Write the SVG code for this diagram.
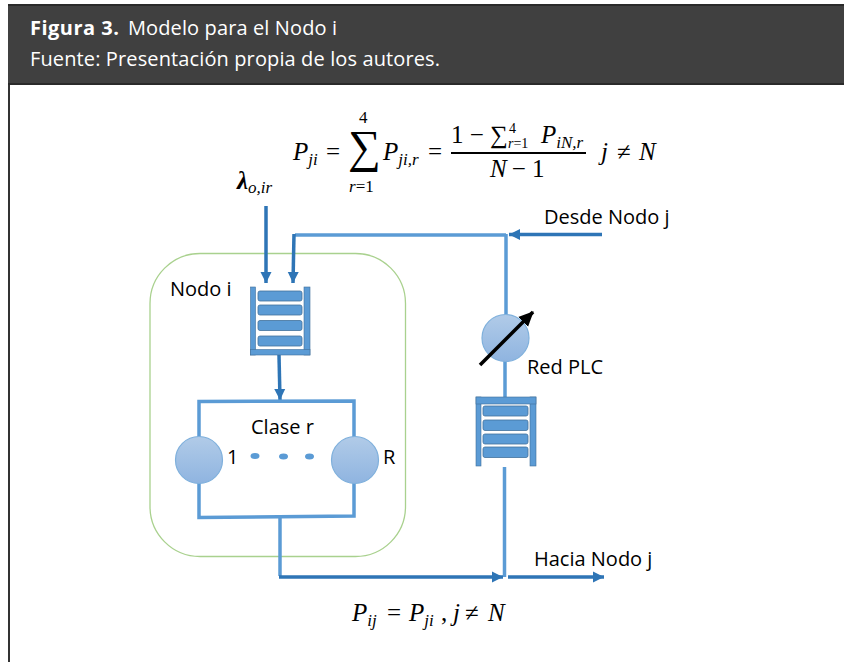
<svg xmlns="http://www.w3.org/2000/svg" width="844" height="662" viewBox="0 0 844 662">
<defs>
<linearGradient id="g" x1="0" y1="0" x2="0" y2="1"><stop offset="0" stop-color="#b1cbe8"/><stop offset="1" stop-color="#8fb4e0"/></linearGradient>
<marker id="ah" markerUnits="userSpaceOnUse" markerWidth="14" markerHeight="14" refX="11" refY="7" orient="auto"><path d="M0,1.500 L11,7 L0,12.500 Z" fill="#2e75b6"/></marker>
<marker id="ak" markerUnits="userSpaceOnUse" markerWidth="18" markerHeight="18" refX="14" refY="9" orient="auto"><path d="M0,2 L15,9 L0,16 Z" fill="#000"/></marker>
</defs>
<style>
.t{font-family:"Open Sans","Noto Sans",sans-serif;fill:#000;font-size:20px}
.h{font-family:"Open Sans","Noto Sans",sans-serif;fill:#fff;font-size:20px}
.m{font-family:"Liberation Serif",serif;font-style:italic;fill:#000;font-size:25px}
.r{font-style:normal}
.s{font-size:17px}
.l{fill:none;stroke:#5b9bd5;stroke-width:3.5}
.d{fill:none;stroke:#2e75b6;stroke-width:3.5}
.w{fill:#5b9bd5;stroke:#41719c;stroke-width:.6}
.b{fill:#5b9bd5;stroke:#41719c;stroke-width:.8}
.c{fill:url(#g);stroke:#7fb0dc;stroke-width:1.2}
</style>
<rect width="844" height="662" fill="#fff"/>
<g id="frame">
<rect x="8" y="4" width="836" height="81" fill="#404040"/>
<rect x="8" y="4" width="836" height="2" fill="#2a2a2a"/>
<rect x="8" y="83" width="836" height="2" fill="#2a2a2a"/>
<rect x="8" y="85" width="2" height="577" fill="#333"/>
<text class="h" x="30" y="35" textLength="89" style="font-weight:700">Figura 3.</text>
<text class="h" x="128" y="35" textLength="209">Modelo para el Nodo i</text>
<text class="h" x="30" y="66" textLength="410">Fuente: Presentación propia de los autores.</text>
</g>
<g id="formulas">
<text class="m" x="293" y="160">P<tspan class="s" dy="5">ji</tspan></text>
<text class="m r" x="326" y="160">=</text>
<text class="m r" x="348" y="162" style="font-size:46px">∑</text>
<text class="m r s" x="359" y="123">4</text>
<text class="m s" x="349" y="192">r<tspan class="r">=1</tspan></text>
<text class="m" x="383" y="160">P<tspan class="s" dy="5">ji,r</tspan></text>
<text class="m r" x="428" y="160">=</text>
<text class="m r" x="451" y="143">1 − ∑</text>
<text class="m r s" x="509" y="133" style="font-size:14px">4</text>
<text class="m s" x="508" y="148" style="font-size:14px">r<tspan class="r">=1</tspan></text>
<text class="m" x="541" y="143">P<tspan class="s" dy="5">iN,r</tspan></text>
<rect x="451" y="152" width="135" height="2" fill="#000"/>
<text class="m" x="490" y="177">N<tspan class="r" dx="5">− 1</tspan></text>
<text class="m" x="601" y="160">j</text>
<text class="m r" x="617" y="160">≠</text>
<text class="m" x="639" y="160">N</text>
<text class="m" x="237" y="189" style="font-weight:700">λ<tspan class="s" dy="4" style="font-weight:400">o,ir</tspan></text>
<text class="m" x="352" y="621">P<tspan class="s" dy="5">ij</tspan></text>
<text class="m r" x="387" y="621">=</text>
<text class="m" x="409" y="621">P<tspan class="s" dy="5">ji</tspan></text>
<text class="m r" x="441" y="621">,</text>
<text class="m" x="453" y="621">j</text>
<text class="m r" x="465" y="621">≠</text>
<text class="m" x="488" y="621">N</text>
</g>
<g id="nodo-i-box"><rect x="150" y="253.500" width="255.500" height="303" rx="50" ry="50" fill="none" stroke="#a9d18e" stroke-width="1.300"/></g>
<g id="connectors">
<path class="d" d="M266,206 L266,283" marker-end="url(#ah)"/>
<path class="l" d="M506,235 L295,235"/>
<path class="d" d="M294,234 L293,283" marker-end="url(#ah)"/>
<path class="d" d="M602,234.500 L509,234.500" marker-end="url(#ah)"/>
<path class="l" d="M506,234 L506,316"/>
<path class="l" d="M505,360 L505,397"/>
<path class="l" d="M504.500,467 L504.500,577"/>
<path class="d" d="M279,355 L280,400" marker-end="url(#ah)"/>
<path class="l" d="M199,437 L199,401.500 L354,401 L354,437"/>
<path class="l" d="M199,483 L199,517.500 L354,516 L354,483"/>
<path class="l" d="M280,517 L280,576"/>
<path class="d" d="M279,577 L503,577" marker-end="url(#ah)"/>
<path class="d" d="M508,577 L604,577" marker-end="url(#ah)"/>
</g>
<g id="cola-nodo">
<rect class="w" x="250.500" y="287" width="5" height="68"/>
<rect class="w" x="304" y="287" width="6" height="68"/>
<rect class="w" x="250.500" y="349.500" width="59.500" height="5.500"/>
<rect class="b" x="258" y="291" width="44" height="10" rx="2"/>
<rect class="b" x="258" y="305" width="44" height="10" rx="2"/>
<rect class="b" x="258" y="320.500" width="44" height="10" rx="2"/>
<rect class="b" x="258" y="336" width="44" height="10" rx="2"/>
</g>
<g id="servidor-1"><circle class="c" cx="199" cy="460" r="23.500"/><text class="t" x="227" y="464">1</text></g>
<g id="servidor-r"><circle class="c" cx="355" cy="460" r="23.500"/><text class="t" x="383" y="464">R</text></g>
<g id="clase-r">
<text class="t" x="251" y="434">Clase r</text>
<ellipse cx="255" cy="456" rx="4.500" ry="3" fill="#5b9bd5"/>
<ellipse cx="283.500" cy="456.500" rx="4.500" ry="3" fill="#5b9bd5"/>
<ellipse cx="309.500" cy="456.500" rx="4.500" ry="3" fill="#5b9bd5"/>
</g>
<g id="red-plc">
<circle class="c" cx="505.500" cy="338" r="23.500"/>
<path d="M480,365 L533,312" stroke="#000" stroke-width="3.500" fill="none" marker-end="url(#ak)"/>
<text class="t" x="527" y="374">Red PLC</text>
</g>
<g id="cola-red">
<rect class="w" x="476" y="397" width="5" height="69"/>
<rect class="w" x="530" y="397" width="6" height="69"/>
<rect class="w" x="476" y="397" width="60" height="7"/>
<rect class="b" x="483" y="406" width="45" height="10" rx="2"/>
<rect class="b" x="483" y="420" width="45" height="10.500" rx="2"/>
<rect class="b" x="483" y="434" width="45" height="10" rx="2"/>
<rect class="b" x="483" y="447" width="45" height="10.500" rx="2"/>
</g>
<g id="labels">
<text class="t" x="170" y="296">Nodo i</text>
<text class="t" x="544" y="224">Desde Nodo j</text>
<text class="t" x="534" y="566">Hacia Nodo j</text>
</g>
</svg>
